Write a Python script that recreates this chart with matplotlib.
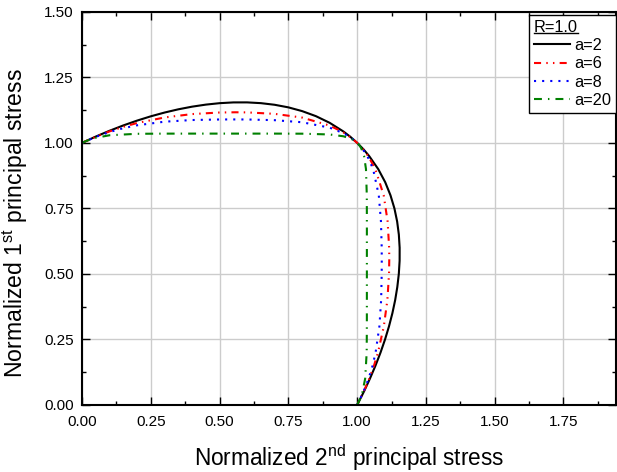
import matplotlib
matplotlib.use('Agg')
import matplotlib.pyplot as plt
from matplotlib.ticker import MultipleLocator
from matplotlib.lines import Line2D

plt.rcParams['font.family'] = ['Liberation Sans', 'DejaVu Sans']
plt.rcParams['mathtext.fontset'] = 'custom'
plt.rcParams['mathtext.rm'] = 'Liberation Sans'

# normalized 2nd (x) and 1st (y) principal stress
a2_x = [0.0, 0.05, 0.1, 0.15, 0.2, 0.25, 0.3, 0.35, 0.4, 0.45, 0.5, 0.55, 0.6, 0.65, 0.7, 0.75,
        0.8, 0.85, 0.9, 0.95, 0.975, 1.0,
        1.0233, 1.0434, 1.0765, 1.1019, 1.1211, 1.1354, 1.1453, 1.1515, 1.1544, 1.1543, 1.1514,
        1.1459, 1.1381, 1.1280, 1.1157, 1.1013, 1.0849, 1.0665, 1.0462, 1.0241, 1.0]
a2_y = [1.0, 1.0241, 1.0462, 1.0665, 1.0849, 1.1013, 1.1157, 1.1280, 1.1381, 1.1459, 1.1514, 1.1543,
        1.1544, 1.1515, 1.1453, 1.1354, 1.1211, 1.1019, 1.0765, 1.0434, 1.0233, 1.0,
        0.975, 0.95, 0.9, 0.85, 0.8, 0.75, 0.7, 0.65, 0.6, 0.55, 0.5,
        0.45, 0.4, 0.35, 0.3, 0.25, 0.2, 0.15, 0.1, 0.05, 0.0]

a6_x = [0.0, 0.05, 0.1, 0.15, 0.2, 0.3, 0.4, 0.5, 0.558, 0.6, 0.7, 0.8, 0.9, 0.95, 0.98, 1.0,
        1.0182, 1.040, 1.066, 1.0964, 1.1107, 1.1162, 1.1167, 1.1158, 1.1098, 1.0969, 1.0757,
        1.0611, 1.0438, 1.0234, 1.0]
a6_y = [1.0, 1.0234, 1.0438, 1.0611, 1.0757, 1.0969, 1.1098, 1.1158, 1.1167, 1.1162, 1.1107,
        1.0964, 1.066, 1.040, 1.0182, 1.0,
        0.98, 0.95, 0.9, 0.8, 0.7, 0.6, 0.558, 0.5, 0.4, 0.3, 0.2, 0.15, 0.1, 0.05, 0.0]

a8_x = [0.0, 0.05, 0.1, 0.15, 0.2, 0.3, 0.4, 0.5, 0.545, 0.6, 0.7, 0.8, 0.9, 0.95, 0.98, 1.0,
        1.0175, 1.0369, 1.0580, 1.0786, 1.0865, 1.0892, 1.0894, 1.0892, 1.0871, 1.0808, 1.0670,
        1.0560, 1.0414, 1.0228, 1.0]
a8_y = [1.0, 1.0228, 1.0414, 1.0560, 1.0670, 1.0808, 1.0871, 1.0892, 1.0894, 1.0892, 1.0865,
        1.0786, 1.0580, 1.0369, 1.0175, 1.0,
        0.98, 0.95, 0.9, 0.8, 0.7, 0.6, 0.545, 0.5, 0.4, 0.3, 0.2, 0.15, 0.1, 0.05, 0.0]

a20_x = [0.0, 0.02, 0.05, 0.1, 0.2, 0.3, 0.4, 0.518, 0.7, 0.8, 0.9, 0.95, 0.98, 0.99, 1.0,
         1.0084, 1.0145, 1.0251, 1.0320, 1.0350, 1.0353, 1.0353, 1.0353, 1.0352, 1.0346,
         1.029, 1.0193, 1.0091, 1.0]
a20_y = [1.0, 1.0091, 1.0193, 1.029, 1.0346, 1.0352, 1.0353, 1.0353, 1.0353, 1.0350, 1.0320,
         1.0251, 1.0145, 1.0084, 1.0,
         0.99, 0.98, 0.95, 0.9, 0.8, 0.7, 0.518, 0.4, 0.3, 0.2, 0.1, 0.05, 0.02, 0.0]

fig = plt.figure(figsize=(6.17, 4.72), dpi=100)
ax = fig.add_axes([0.133, 0.142, 0.865, 0.833])

ax.plot(a2_x, a2_y, color='black', lw=1.5, label='a=2')
ax.plot(a6_x, a6_y, color='red', lw=1.5, ls=(0, (3.4, 2.5, 0.7, 2.5, 0.7, 2.5)), label='a=6')
ax.plot(a8_x, a8_y, color='blue', lw=1.5, ls=(0, (1, 2.9)), label='a=8')
ax.plot(a20_x, a20_y, color='green', lw=1.5, ls=(0, (3.8, 2.9, 0.7, 2.9)), label='a=20')

ax.set_xlim(0, 1.94)
ax.set_ylim(0, 1.5)
ax.xaxis.set_major_locator(MultipleLocator(0.25))
ax.xaxis.set_minor_locator(MultipleLocator(0.125))
ax.yaxis.set_major_locator(MultipleLocator(0.25))
ax.yaxis.set_minor_locator(MultipleLocator(0.125))
ax.xaxis.set_major_formatter(lambda v, p: f'{v:.2f}')
ax.yaxis.set_major_formatter(lambda v, p: f'{v:.2f}')
ax.grid(True, which='major', color='#cccccc', lw=1.0)
ax.set_axisbelow(True)

ax.tick_params(which='both', direction='in', top=True, right=True, labelsize=11, width=1)
ax.tick_params(which='major', length=6)
ax.tick_params(which='minor', length=3)
ax.tick_params(axis='x', pad=7)
ax.tick_params(axis='y', pad=6)
for s in ax.spines.values():
    s.set_linewidth(1.5)

ax.set_xlabel(r'Normalized 2$^{\rm nd}$ principal stress', fontsize=16.3, labelpad=10)
ax.set_ylabel(r'Normalized 1$^{\rm st}$ principal stress', fontsize=16.6)
ax.yaxis.set_label_coords(-0.098, 0.462)

leg = ax.legend(title='R=1.0', loc='upper right', bbox_to_anchor=(1.0, 0.992), borderaxespad=0,
                fontsize=11.8, title_fontsize=11.8, alignment='left', fancybox=False,
                framealpha=1, edgecolor='black', handlelength=2.2, handletextpad=0.25,
                labelspacing=0.2, borderpad=0.3)
leg.get_frame().set_linewidth(1.0)

# underline the legend title
fig.canvas.draw()
bb = leg.get_title().get_window_extent().transformed(fig.transFigure.inverted())
fig.add_artist(Line2D([bb.x0, bb.x1], [bb.y0 + 0.004, bb.y0 + 0.004], color='black', lw=1,
                      transform=fig.transFigure))

fig.savefig('out.png', dpi=100)
